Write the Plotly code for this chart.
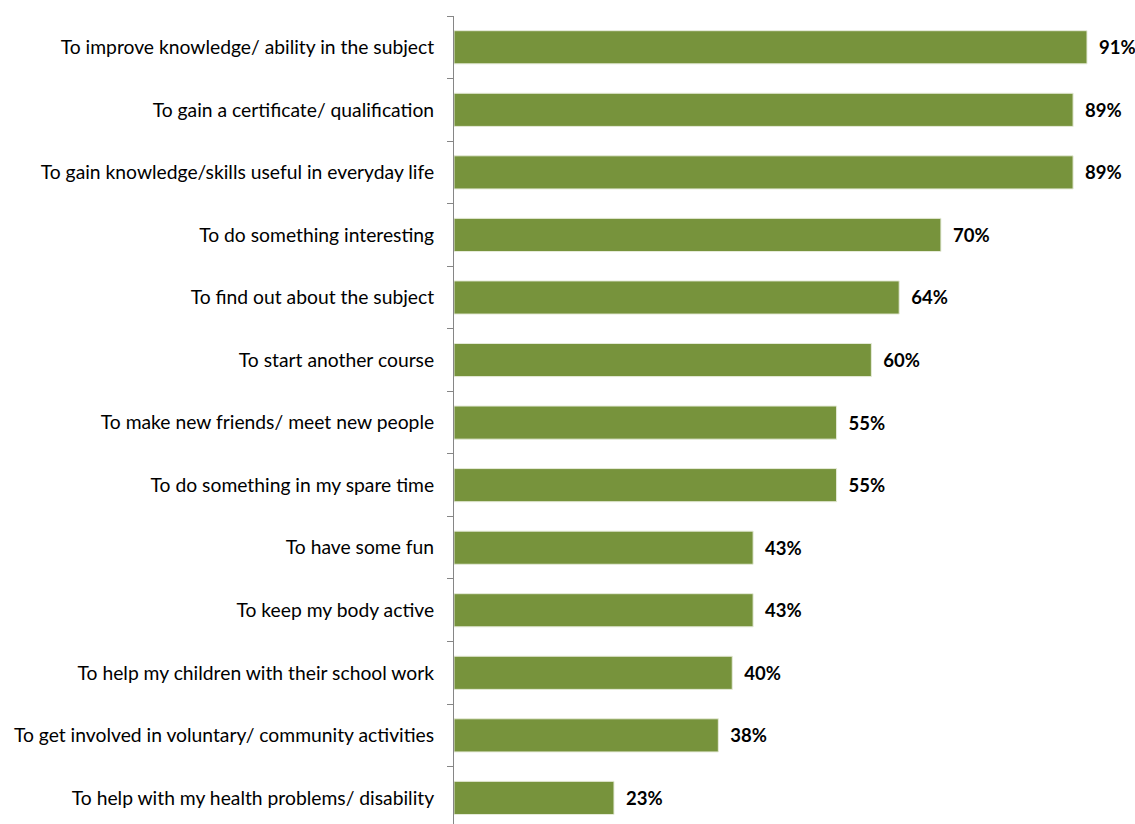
import plotly.graph_objects as go

categories = [
    "To improve knowledge/ ability in the subject",
    "To gain a certificate/ qualification",
    "To gain knowledge/skills useful in everyday life",
    "To do something interesting",
    "To find out about the subject",
    "To start another course",
    "To make new friends/ meet new people",
    "To do something in my spare time",
    "To have some fun",
    "To keep my body active",
    "To help my children with their school work",
    "To get involved in voluntary/ community activities",
    "To help with my health problems/ disability",
]
values = [91, 89, 89, 70, 64, 60, 55, 55, 43, 43, 40, 38, 23]
value_labels = [f"{v}%" for v in values]

FONT = "Lato"

fig = go.Figure(
    go.Bar(
        x=values,
        y=categories,
        orientation="h",
        marker=dict(color="#77933C", line=dict(color="#E6EBD9", width=1)),
        text=value_labels,
        textposition="outside",
        texttemplate="  %{text}",
        textfont=dict(family=FONT, size=18.5, color="#000000", weight="bold"),
        cliponaxis=False,
        hoverinfo="skip",
    )
)

fig.update_layout(
    width=1135,
    height=824,
    margin=dict(l=454, r=0, t=16, b=0),
    plot_bgcolor="white",
    paper_bgcolor="white",
    bargap=0.47,
    showlegend=False,
    font=dict(family=FONT, size=19, color="#000000"),
)

fig.update_xaxes(
    range=[0, 97.9],
    showticklabels=False,
    showgrid=False,
    zeroline=False,
    showline=False,
    ticks="",
)

fig.update_yaxes(
    type="category",
    categoryorder="array",
    categoryarray=categories,
    range=[12.417, -0.5],
    showline=True,
    linecolor="#868686",
    linewidth=1,
    ticks="outside",
    tickson="boundaries",
    ticklen=6,
    tickcolor="#868686",
    ticklabelstandoff=15,
    showgrid=False,
    tickfont=dict(family=FONT, size=19.3, color="#000000"),
)

fig.write_html("out.html")
